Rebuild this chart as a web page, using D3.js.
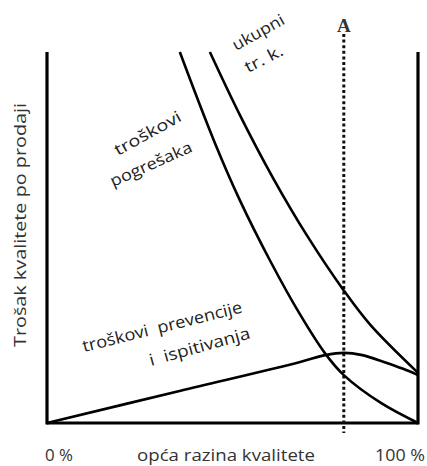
<!DOCTYPE html>
<html><head><meta charset="utf-8">
<script src="https://cdn.jsdelivr.net/npm/d3@7"></script>
<style>body{margin:0;background:#fff}svg{display:block}text{white-space:pre}</style>
</head><body>
<svg id="c" width="427" height="466"></svg>
<script>
// quality level (%) and cost (relative)
const failureQ = [35.8, 45, 52, 60, 68, 75, 80, 90, 100];
const failureC = [100, 76.1, 60.0, 44.0, 29.6, 18.7, 12.9, 5.4, 0];
const totalQ = [43.9, 52, 60.9, 70.1, 79.8, 87.1, 100];
const totalC = [100, 83, 66.1, 50.5, 36, 26.5, 13.5];
const preventionQ = [0, 36, 68, 75, 80, 85, 91, 96, 100];
const preventionC = [0, 8.7, 16.4, 18.3, 18.9, 18.3, 16.4, 14.6, 12.9];
const markerA = 80;
const xLabels = ["0 %", "opća razina kvalitete", "100 %"];
const yLabel = "Trošak kvalitete po prodaji";
const curveLabels = [["ukupni", "tr. k."], ["troškovi", "pogrešaka"], ["troškovi  prevencije", "i  ispitivanja"]];

const svg = d3.select("#c");
const x = d3.scaleLinear().domain([0, 100]).range([47, 418]);
const y = d3.scaleLinear().domain([0, 100]).range([423, 52]);
const font = "'Open Sans', 'Noto Sans', sans-serif";

// frame: left, right axis and baseline
const frame = svg.append("g").attr("stroke", "#000").attr("stroke-width", 3.2).attr("fill", "none");
frame.append("line").attr("x1", x(0)).attr("x2", x(0)).attr("y1", y(100)).attr("y2", y(0) + 1.5);
frame.append("line").attr("x1", x(100)).attr("x2", x(100)).attr("y1", y(100)).attr("y2", y(0) + 1.5);
frame.append("line").attr("x1", x(0)).attr("x2", x(100)).attr("y1", y(0)).attr("y2", y(0));

// dotted marker A
svg.append("line").attr("x1", x(markerA)).attr("x2", x(markerA))
  .attr("y1", 34).attr("y2", y(0) + 10)
  .attr("stroke", "#111").attr("stroke-width", 3).attr("stroke-dasharray", "3,2.6");
svg.append("text").attr("x", x(markerA)).attr("y", 32).attr("text-anchor", "middle")
  .attr("font-family", "'Liberation Serif', 'DejaVu Serif', serif").attr("font-size", 19)
  .attr("font-weight", "bold").attr("fill", "#333").text("A");

const line = d3.line().x(d => x(d[0])).y(d => y(d[1])).curve(d3.curveCatmullRom.alpha(0.5));
function draw(qs, cs) {
  svg.append("path").datum(qs.map((q, i) => [q, cs[i]])).attr("d", line)
    .attr("fill", "none").attr("stroke", "#000").attr("stroke-width", 2.6);
}
draw(failureQ, failureC);
draw(totalQ, totalC);
draw(preventionQ, preventionC);

// curve labels: each line placed at its baseline start, rotated, stretched to reference width
function txt(s, bx, by, rot, len, size) {
  svg.append("text").attr("transform", `translate(${bx},${by}) rotate(${rot})`)
    .attr("font-family", font).attr("font-size", size).attr("fill", "#222")
    .attr("textLength", len).attr("lengthAdjust", "spacingAndGlyphs").text(s);
}
txt(curveLabels[0][0], 236, 51, -29, 57, 16);
txt(curveLabels[0][1], 248, 73, -27, 41, 16);
txt(curveLabels[1][0], 118, 156, -29, 74, 16);
txt(curveLabels[1][1], 113, 187, -24, 88, 16);
txt(curveLabels[2][0], 84, 352, -14, 164, 16.5);
txt(curveLabels[2][1], 151, 366, -15.5, 104, 16.5);

// axis texts
const tx = svg.append("g").attr("font-family", font).attr("font-size", 17).attr("fill", "#333");
function at(sel) { return sel.attr("lengthAdjust", "spacingAndGlyphs"); }
at(tx.append("text").attr("x", 45).attr("y", 461).attr("textLength", 28).text(xLabels[0]));
at(tx.append("text").attr("x", 137).attr("y", 461).attr("textLength", 178).text(xLabels[1]));
at(tx.append("text").attr("x", 375).attr("y", 461).attr("textLength", 50).text(xLabels[2]));
at(tx.append("text").attr("transform", "translate(26,347) rotate(-90)").attr("textLength", 244).text(yLabel));
</script>
</body></html>
